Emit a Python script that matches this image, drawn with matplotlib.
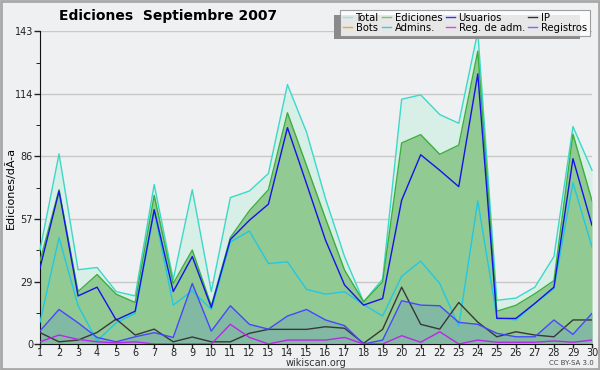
import matplotlib
matplotlib.use("Agg")
import matplotlib.pyplot as plt
from matplotlib.lines import Line2D
from matplotlib.patches import Rectangle

days = list(range(1, 31))
total = [43, 87, 34, 35, 24, 22, 73, 29.5, 70.6, 24, 67, 70, 78, 118.7, 97, 66.5, 40, 19.3, 29.7, 112,
         114, 105, 101, 143, 20, 21, 26, 40, 99.5, 79.5]
ediciones = [38, 70.6, 24, 31.8, 22.8, 19, 68, 27.7, 43, 17.5, 48.7, 61, 70.6, 105.8, 81.7, 57.4, 33.8, 19.3, 28.4, 92,
             95.8, 86.8, 91, 134, 15, 17.7, 23, 29, 96, 65.5]
usuarios = [34.8, 70, 22, 26, 11, 15, 61.5, 24, 40, 16.7, 47.8, 56.6, 64, 99, 73.4, 47.5, 27, 17.8, 20.8, 65.8,
            86.6, 79.5, 72, 123.6, 11.7, 11.7, 18.6, 26, 84.8, 54.3]
ip = [5.2, 1, 1.8, 5.3, 11.4, 4.1, 6.8, 1, 3.2, 1, 1, 4.9, 6.7, 6.7, 6.7, 7.9, 7.2, 0.3, 6.7, 26,
      9, 6.8, 19, 10, 3.3, 5.6, 4.1, 3.3, 11, 11]
bots = [0] * 30
admins = [10, 48.7, 17.5, 1.4, 9.7, 14, 61, 17.8, 24.4, 15.8, 46.7, 51.7, 36.8, 37.6, 25, 22.8, 23.9, 18, 12.8, 31,
          37.9, 27.7, 8.2, 65.5, 12.2, 11, 18.6, 25.4, 73.8, 44.4]
reg_adm = [1, 4.1, 2.1, 1, 0.5, 1, 0, 0, 0, 0, 9, 3, 0, 1.8, 1.8, 1.8, 3, 0, 0, 3.8,
           0.8, 5.6, 0, 1.8, 0.8, 0.8, 0.8, 1.4, 0.8, 1.8]
registros = [6, 15.8, 9.7, 3, 1, 3.3, 5.2, 3, 27.7, 5.9, 17.5, 9, 6.8, 12.8, 15.8, 11, 8.4, 0, 1.8, 19.8,
             17.8, 17.5, 9.9, 9, 4.9, 3.3, 3.3, 11, 4.4, 14]

ymax = 143
yticks = [ymax * k / 5 for k in range(6)]
ytick_labels = ["0", "29", "57", "86", "114", "143"]

bg = "#eef0f2"
fig = plt.figure(figsize=(6, 3.7), dpi=100, facecolor=bg)
ax = fig.add_axes([40 / 600, 26 / 370, 552 / 600, (344 - 31.5) / 370])
ax.set_facecolor(bg)

ax.fill_between(days, 0, total, color="#d8efe8", lw=0)
ax.fill_between(days, 0, ediciones, color="#92ca94", lw=0)
ax.fill_between(days, 0, registros, color="#82b9a2", lw=0)

ax.plot(days, total, color="#3cd8c8", lw=1, clip_on=False, zorder=5)
ax.plot(days, ediciones, color="#3cae3c", lw=1, zorder=5)
ax.plot(days, usuarios, color="#1414e6", lw=1, zorder=6)
ax.plot(days, admins, color="#22c8e2", lw=1, zorder=5)
ax.plot(days, ip, color="#383838", lw=1, zorder=5)
ax.plot(days, registros, color="#4646ff", lw=1, zorder=5)
ax.plot(days, reg_adm, color="#b828e8", lw=1, zorder=5)
ax.plot(days, bots, color="#ffa020", lw=1, zorder=4)

ax.set_xlim(1, 30)
ax.set_ylim(0, ymax)
ax.set_yticks(yticks)
ax.set_yticklabels(ytick_labels)
ax.set_yticks([ymax * (k + 0.5) / 5 for k in range(5)], minor=True)
ax.set_xticks(days)
ax.set_xticklabels([str(d) for d in days])
ax.tick_params(axis="both", labelsize=7, length=4, width=1, pad=1, colors="#222222")
ax.tick_params(axis="x", length=3, pad=0)
ax.tick_params(axis="y", which="minor", length=3)
ax.grid(axis="y", color="#c8c8c8", lw=1)
ax.set_axisbelow(True)
for s in ["top", "right"]:
    ax.spines[s].set_visible(False)
for s in ["left", "bottom"]:
    ax.spines[s].set_color("#111111")

fig.text(10 / 600, 1 - 188 / 370, "Ediciones/dÃ-a", fontsize=8, rotation=90, ha="center", va="center")
fig.text(316 / 600, 1 - 363 / 370, "wikiscan.org", fontsize=7, ha="center", va="center", color="#333333")
fig.text(594 / 600, 4 / 370, "CC BY-SA 3.0", fontsize=5, ha="right", va="bottom", color="#444444")
fig.text(168 / 600, 1 - 16 / 370, "Ediciones  Septiembre 2007", fontsize=10, fontweight="bold",
         ha="center", va="center")

labels = ["Total", "Bots", "Ediciones", "Admins.", "Usuarios", "Reg. de adm.", "IP", "Registros"]
colors = ["#90e8e0", "#ffa020", "#70c870", "#30d0e0", "#3030ff", "#e040f0", "#303030", "#7070ff"]
handles = [Line2D([0], [0], color=c, lw=1) for c in colors]
leg = fig.legend(handles, labels, ncol=4, loc="upper right", bbox_to_anchor=(590 / 600, 1 - 10 / 370),
                 prop={"family": "DejaVu Sans", "stretch": "condensed", "size": 8},
                 frameon=True, fancybox=False, shadow=False, handlelength=0.8,
                 handletextpad=0.35, columnspacing=0.3, labelspacing=0.05, borderpad=0.25, borderaxespad=0)
leg.get_frame().set_facecolor("white")
leg.get_frame().set_edgecolor("#888888")
leg.get_frame().set_linewidth(0.8)
leg.set_zorder(10)
fig.canvas.draw()
bb = leg.get_window_extent()
W, H = fig.bbox.width, fig.bbox.height
fig.patches.append(Rectangle(((bb.x0 - 6) / W, (bb.y0 - 3) / H), (bb.width - 4) / W, (bb.height - 2) / H,
                             transform=fig.transFigure, facecolor="#8a8a8a", edgecolor="none", zorder=9))
fig.patches.append(Rectangle((0.002, 0.003), 0.996, 0.994, transform=fig.transFigure,
                             facecolor="none", edgecolor="#a8a8a8", lw=2))

fig.savefig("out.png", dpi=100, facecolor=bg)
